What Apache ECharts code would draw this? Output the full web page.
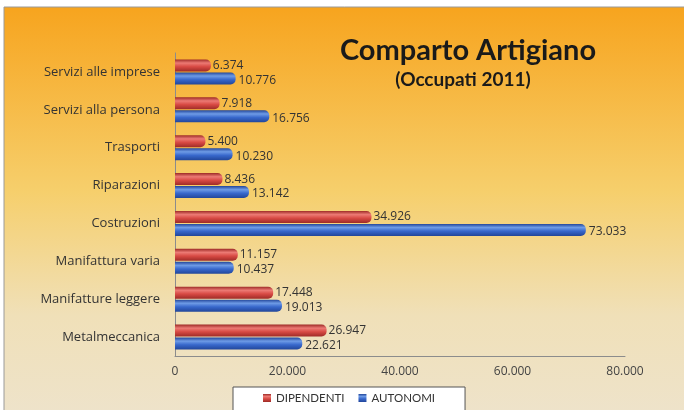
<!DOCTYPE html>
<html>
<head>
<meta charset="utf-8">
<script src="https://cdn.jsdelivr.net/npm/echarts@6/dist/echarts.min.js"></script>
<style>
  html, body { margin: 0; padding: 0; background: #fff; }
  #chart { width: 684px; height: 410px; }
</style>
</head>
<body>
<div id="chart"></div>
<script>
"use strict";

// categorie dall'alto verso il basso
var categories = ['Servizi alle imprese', 'Servizi alla persona', 'Trasporti', 'Riparazioni',
	'Costruzioni', 'Manifattura varia', 'Manifatture leggere', 'Metalmeccanica'];
var dipendenti = [6374, 7918, 5400, 8436, 34926, 11157, 17448, 26947];
var autonomi = [10776, 16756, 10230, 13142, 73033, 10437, 19013, 22621];
var axisTicks = [0, 20000, 40000, 60000, 80000];

// formato italiano: 34.926
function fmt(v) {
	return String(v).replace(/\B(?=(\d{3})+(?!\d))/g, '.');
}

function cyl(light, mid, dark) {
	return new echarts.graphic.LinearGradient(0, 0, 0, 1, [
		{ offset: 0, color: dark },
		{ offset: 0.3, color: light },
		{ offset: 0.6, color: mid },
		{ offset: 1, color: dark }
	]);
}

var myChart = echarts.init(document.getElementById('chart'));

var option = {
	backgroundColor: '#fff',
	animation: false,
	textStyle: { fontFamily: 'Open Sans' },
	graphic: [{
		type: 'rect',
		z: -10,
		shape: { x: 4, y: 7, width: 690, height: 410 },
		style: {
			fill: new echarts.graphic.LinearGradient(0, 0, 0, 1, [
				{ offset: 0, color: '#F7A41E' },
				{ offset: 0.45, color: '#F6CF6C' },
				{ offset: 0.75, color: '#F0E0B8' },
				{ offset: 1, color: '#EEE3CB' }
			]),
			stroke: '#9a9a9a',
			lineWidth: 1
		}
	}],
	title: [{
		text: 'Comparto Artigiano',
		left: 463,
		top: 31,
		textAlign: 'center',
		textStyle: { fontSize: 29, fontWeight: 'bold', color: '#1a1a1a', fontFamily: 'Lato' }
	}, {
		text: '(Occupati 2011)',
		left: 458,
		top: 65,
		textAlign: 'center',
		textStyle: { fontSize: 19, fontWeight: 'bold', color: '#1a1a1a', fontFamily: 'Lato' }
	}],
	legend: {
		data: ['DIPENDENTI', 'AUTONOMI'],
		top: 387,
		left: 233,
		icon: 'rect',
		itemWidth: 8,
		itemHeight: 8,
		itemGap: 14,
		backgroundColor: '#fff',
		borderColor: '#555',
		borderWidth: 1,
		padding: [5, 30, 12, 30],
		textStyle: { fontSize: 11.5, color: '#333', fontFamily: 'Lato' }
	},
	grid: {
		left: 175,
		right: 59,
		top: 53,
		bottom: 54
	},
	xAxis: {
		type: 'value',
		min: axisTicks[0],
		max: axisTicks[axisTicks.length - 1],
		interval: axisTicks[1] - axisTicks[0],
		axisLine: { show: true, lineStyle: { color: '#8c8c8c' } },
		axisTick: { show: false },
		splitLine: { show: false },
		axisLabel: {
			margin: 10,
			fontSize: 12,
			color: '#444',
			formatter: function (v) { return fmt(v); }
		}
	},
	yAxis: {
		type: 'category',
		inverse: true,
		data: categories,
		axisLine: { show: true, lineStyle: { color: '#8c8c8c' } },
		axisTick: { show: false },
		axisLabel: { margin: 15, fontSize: 13, color: '#333' }
	},
	series: [{
		name: 'DIPENDENTI',
		type: 'bar',
		data: dipendenti,
		barWidth: 12,
		barGap: '8%',
		itemStyle: {
			color: cyl('#EC7A74', '#D84A44', '#9E2B27'),
			borderRadius: [0, 5, 5, 0]
		},
		label: {
			show: true,
			position: 'right',
			distance: 2,
			fontSize: 12,
			color: '#333',
			formatter: function (p) { return fmt(p.value); }
		}
	}, {
		name: 'AUTONOMI',
		type: 'bar',
		data: autonomi,
		barWidth: 12,
		itemStyle: {
			color: cyl('#6E9BE6', '#3868CC', '#22469A'),
			borderRadius: [0, 5, 5, 0]
		},
		label: {
			show: true,
			position: 'right',
			distance: 3,
			offset: [0, 2],
			fontSize: 12,
			color: '#333',
			formatter: function (p) { return fmt(p.value); }
		}
	}],
	color: ['#D84A44', '#3868CC']
};

myChart.setOption(option);
</script>
</body>
</html>
